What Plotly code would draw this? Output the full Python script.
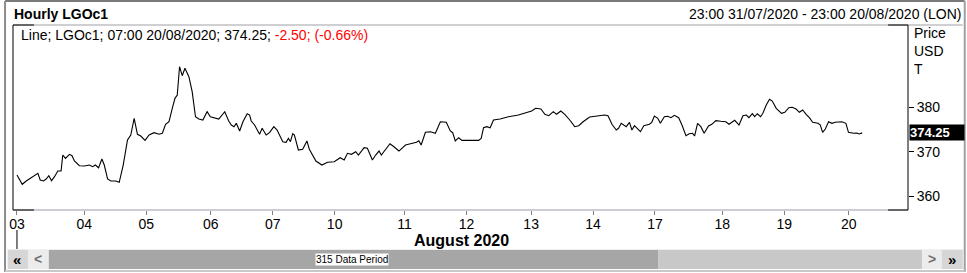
import plotly.graph_objects as go

# ---------------- data ----------------
period = [0, 1.96, 3.44, 5.29, 6.55, 7.77, 8.62, 9.87, 10.84, 11.83, 12.83, 13.94, 15.16, 16.38,
          17.01, 18.01, 19.49, 20.45, 21.34, 23.19, 25.04, 26.88, 28.10, 29.10, 30.32, 31.54,
          32.43, 33.65, 34.87, 36.72, 37.98, 39.46, 41.05, 42.27, 43.53, 44.75, 45.97, 47.59,
          49.07, 50.92, 52.77, 53.99, 55.21, 56.47, 57.69, 58.69, 59.54, 60.39, 61.39, 62.39,
          63.86, 65.08, 66.31, 67.56, 69.04, 70.63, 71.85, 73.70, 74.96, 77.18, 78.66, 79.62,
          80.62, 81.47, 82.72, 83.94, 85.53, 86.42, 87.01, 88.27, 90.12, 91.08, 92.56, 93.82,
          95.41, 96.63, 98.74, 99.96, 100.84, 101.58, 102.43, 103.06, 104.54, 106.13, 107.72,
          108.61, 109.83, 111.05, 113.27, 115.38, 117.86, 120.07, 121.55, 122.77, 124.25,
          125.84, 126.84, 128.95, 130.17, 132.02, 133.24, 134.50, 135.35, 136.94, 138.56,
          140.04, 141.89, 144.33, 146.81, 148.40, 149.29, 150.14, 151.73, 153.58, 155.43,
          157.28, 159.49, 160.97, 161.86, 162.82, 164.08, 165.30, 171.48, 172.44, 173.33,
          174.55, 175.77, 177.02, 179.46, 182.57, 186.27, 189.97, 191.19, 192.67, 194.63,
          196.11, 197.58, 199.21, 200.43, 202.02, 203.50, 205.35, 207.20, 208.68, 210.30,
          212.75, 216.44, 218.29, 219.55, 221.03, 222.62, 223.47, 224.47, 225.47, 226.32,
          227.54, 228.43, 229.39, 230.64, 231.61, 232.86, 234.93, 235.82, 236.78, 238.04,
          239.00, 240.48, 241.74, 242.96, 244.18, 245.81, 247.03, 248.51, 249.73, 250.98,
          251.72, 252.83, 254.05, 255.27, 256.90, 258.12, 259.60, 261.45, 263.30, 264.52,
          266.63, 268.22, 269.69, 270.95, 271.91, 273.17, 274.02, 275.02, 276.24, 277.09,
          278.35, 279.57, 280.57, 282.05, 284.01, 285.23, 286.71, 287.96, 289.44, 290.66,
          291.88, 293.14, 294.36, 295.58, 297.58, 298.43, 299.28, 300.28, 301.50, 302.75,
          303.98, 306.45, 307.93, 308.89, 310.74, 312.00, 312.85, 314.0]

price = [364.76, 362.67, 363.41, 364.15, 364.60, 365.14, 363.63, 363.41, 363.86, 364.60, 363.48,
         364.38, 365.66, 365.66, 369.26, 368.52, 369.42, 369.11, 367.91, 366.85, 366.79, 367.01,
         366.63, 367.01, 366.40, 368.36, 367.01, 363.86, 363.41, 363.41, 363.12, 367.01, 372.64,
         373.77, 377.53, 373.93, 373.54, 372.57, 373.77, 374.29, 373.93, 374.15, 376.18, 376.76,
         379.78, 382.03, 382.78, 389.15, 387.12, 388.79, 386.90, 383.52, 377.89, 377.37, 377.15,
         379.02, 377.89, 377.66, 377.37, 379.02, 376.92, 376.02,
         375.64, 376.40, 374.67, 376.76, 378.56, 378.27, 376.92, 376.02, 373.93, 375.28, 373.77,
         374.29, 375.64, 374.89, 372.26, 372.12, 373.02, 372.26, 374.06, 373.77, 370.39, 370.55,
         372.42, 370.55, 369.26, 367.91, 367.01, 367.62, 367.76, 368.66, 368.14, 369.65, 369.42,
         370.01, 369.26, 370.91, 370.77, 368.14, 369.26, 370.16, 369.26, 370.62, 371.81, 371.13,
         370.16, 371.52, 371.81, 372.12, 372.48, 371.52, 374.38, 374.51, 374.15, 376.76, 376.63,
         374.67, 374.29, 372.42, 373.16, 372.57, 372.57, 373.02, 375.41, 375.64, 375.41, 377.15,
         377.37, 377.89, 378.27, 378.88, 379.17, 379.78, 379.62, 378.43, 378.11, 379.02, 378.43,
         379.17, 378.43, 377.15, 375.64, 375.86, 376.76, 377.82, 378.05, 378.27, 378.11, 376.18,
         374.89, 375.28, 376.40, 376.02, 375.64, 376.63, 374.89, 375.86, 375.12, 374.51, 375.86,
         376.18, 376.63, 378.05, 377.53, 376.40,
         377.89, 377.98, 377.66, 378.20, 377.66, 376.02, 373.61, 374.06, 374.15, 373.54, 376.40,
         375.64, 374.15, 375.79, 376.18, 376.99, 376.85, 376.76, 376.18, 377.08, 376.02, 378.11,
         378.27, 377.66, 378.56, 377.89, 378.56, 377.89, 378.65, 380.52, 381.81, 381.42, 379.78,
         378.65, 378.88, 379.92, 380.01, 379.62, 378.88, 379.40, 378.43, 377.66, 376.63, 376.40,
         376.02, 374.38, 375.12, 376.76, 376.40, 376.63, 376.76, 376.40, 374.38, 374.15, 374.22,
         373.99, 374.25]

day_ticks = [0, 25, 48, 72, 95, 118, 144, 167, 191, 214, 237, 262, 285, 309]
day_labels = ["03", "04", "05", "06", "07", "10", "11", "12", "13", "14", "17", "18", "19", "20"]
price_ticks = [360, 370, 380]
last_price = 374.25

# ---------------- layout geometry ----------------
W, H = 967, 273
L, R, T, B = 9, 908, 25, 210
FONT = "Liberation Sans, Arial, sans-serif"


def px(x):
    return (x - L) / (R - L)


def py(y):
    return (B - y) / (B - T)


fig = go.Figure()
fig.add_trace(go.Scatter(x=period, y=price, mode="lines",
                         line=dict(color="#000000", width=1.1),
                         hoverinfo="skip", showlegend=False))

shapes = []


def line(x0, y0, x1, y1, color, width=1):
    shapes.append(dict(type="line", xref="paper", yref="paper",
                       x0=px(x0), y0=py(y0), x1=px(x1), y1=py(y1),
                       line=dict(color=color, width=width), layer="above"))


def rect(x0, y0, x1, y1, fill, lc=None):
    shapes.append(dict(type="rect", xref="paper", yref="paper",
                       x0=px(x0), y0=py(y0), x1=px(x1), y1=py(y1),
                       fillcolor=fill, line=dict(color=lc or fill, width=1 if lc else 0),
                       layer="below"))


# scrollbar
rect(3, 249, 964, 269, "#f0f0f0")
rect(4, 250, 24, 269, "#d6d6d6")
rect(24, 250, 45, 269, "#ececec")
rect(45, 250, 657, 269, "#a6a6a6")
rect(657, 250, 922, 269, "#c8c8c8")
rect(922, 250, 942, 269, "#ececec")
rect(942, 250, 963, 269, "#d6d6d6")

# window frame
line(1, 1, 965, 1, "#7a7a7a", 2)
line(1, 1, 1, 272, "#8c8c8c", 2)
line(965, 1, 965, 272, "#a0a0a0", 2)
line(1, 271, 965, 271, "#c8c8c8", 2)
# header separator
line(L, T, 963, T, "#a0a0a4", 1)
# plot frame
line(L, B, R, B, "#9a9aa6", 1)
line(L, T, L, B, "#000000", 1)
line(R, T, R, B, "#000000", 1)
for (a, b, yy) in [(L, 30, T), (888, R, T), (L, 30, B), (888, R, B)]:
    line(a, yy, b, yy, "#000000", 1)
# cursor marker
line(13, 230, 13, 249, "#000000", 1)

ann = []


def text(x, y, s, size=14, color="#000", xanchor="left", bold=False, **kw):
    if bold:
        s = "<b>" + s + "</b>"
    ann.append(dict(x=px(x), y=py(y), xref="paper", yref="paper", text=s,
                    showarrow=False, xanchor=xanchor, yanchor="middle",
                    font=dict(family=FONT, size=size, color=color), **kw))


text(8, 14.5, "Hourly LGOc1", size=14, bold=True)
text(963, 14, "23:00 31/07/2020 - 23:00 20/08/2020 (LON)", xanchor="right")
text(15, 35, "Line; LGOc1; 07:00 20/08/2020; 374.25; "
     "<span style='color:#ff0000'>-2.50; (-0.66%)</span>")
text(912, 33, "Price")
text(912, 51, "USD")
text(912, 69, "T")
text(460, 240, "August 2020", size=16, bold=True, xanchor="center")
text(350, 259.5, "315 Data Period", size=10, xanchor="center", bgcolor="#ffffff",
     borderpad=0)
text(13.5, 259, "«", size=15, bold=True, xanchor="center")
text(34.5, 259, "<", size=14, color="#707070", bold=True, xanchor="center")
text(932, 259, ">", size=14, color="#707070", bold=True, xanchor="center")
text(952.5, 259, "»", size=15, bold=True, xanchor="center")

# last price badge
ann.append(dict(x=px(909), y=last_price, xref="paper", yref="y",
                text="<b>%.2f</b>" % last_price, showarrow=False,
                xanchor="left", yanchor="middle", bgcolor="#000000",
                font=dict(family=FONT, size=13, color="#ffffff"),
                width=54, align="left", borderpad=0))

x_lo = -1.48
x_hi = 331.0
y_lo = 356.88
y_hi = 398.54

fig.update_layout(
    width=W, height=H,
    margin=dict(l=L, r=W - R, t=T, b=H - B, pad=0),
    paper_bgcolor="#ffffff", plot_bgcolor="#ffffff",
    shapes=shapes, annotations=ann, showlegend=False,
    xaxis=dict(range=[x_lo, x_hi], tickmode="array", tickvals=day_ticks,
               ticktext=day_labels, ticks="outside", ticklen=4,
               tickcolor="#808080", tickwidth=1, showgrid=False, zeroline=False,
               showline=False, tickfont=dict(family=FONT, size=14, color="#000"),
               ticklabelstandoff=-3, fixedrange=True),
    yaxis=dict(range=[y_lo, y_hi], side="right", tickmode="array",
               tickvals=price_ticks, ticks="outside", ticklen=5,
               tickcolor="#000000", showgrid=False, zeroline=False, showline=False,
               tickfont=dict(family=FONT, size=14, color="#000"), fixedrange=True),
)

fig.write_html("out.html", config={"displayModeBar": False})
